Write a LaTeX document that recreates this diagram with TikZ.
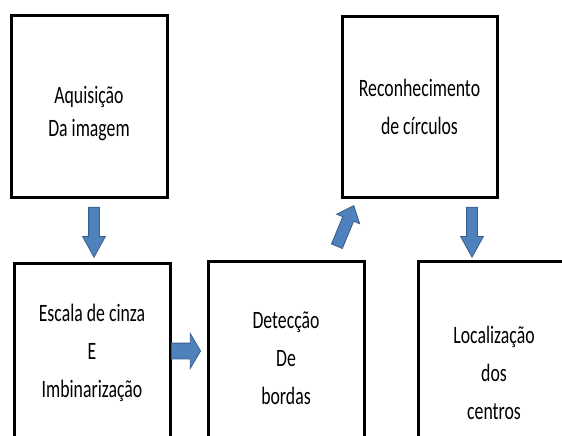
\documentclass[tikz,border=0pt]{standalone}
\usepackage{fontspec}
\newfontfamily\etapafont[FakeStretch=0.71]{Carlito}
\usepackage{tikz}
\usetikzlibrary{shapes.arrows}
\definecolor{setaazul}{RGB}{79,129,189}
\definecolor{setaborda}{RGB}{56,93,138}
\tikzset{
  etapa/.style={draw, line width=3pt, align=center, inner sep=0pt,
                font=\etapafont\fontsize{25}{38}\selectfont},
  seta/.style={shape=single arrow, draw=setaborda, fill=setaazul,
               line width=0.8pt, inner sep=0pt, text depth=0pt, anchor=tip}
}

\begin{document}
\begin{tikzpicture}[x=1pt, y=-1pt]
  \useasboundingbox (0,0) rectangle (562,436);

  \node[etapa, minimum width=156pt, minimum height=181pt] (aquisicao) at (89,106.5) {\rule{0pt}{32pt}Aquisição\\[-5pt]Da imagem};
  \node[etapa, minimum width=156pt, minimum height=180pt] (cinza) at (92,353) {Escala de cinza\\E\\Imbinarização};
  \node[etapa, minimum width=156pt, minimum height=195pt] (bordas) at (286,358.5) {Detecção\\De\\bordas};
  \node[etapa, minimum width=155pt, minimum height=180pt] (circulos) at (419.5,107) {Reconhecimento\\de círculos};
  \node[etapa, minimum width=152pt, minimum height=223pt] (centros) at (494,372.5) {Localização\\dos\\centros};

  % setas de bloco
  \node[seta, rotate=-90, text height=10pt, minimum height=50pt, minimum width=22pt,
        single arrow head extend=6pt, single arrow tip angle=57.6] (s1) at (94,258) {};
  \node[seta, text height=15pt, minimum height=29pt, minimum width=34pt,
        single arrow head extend=9.5pt, single arrow tip angle=119] (s2) at (201,351) {};
  \node[seta, rotate=67.5, text height=11pt, minimum height=44pt, minimum width=24pt,
        single arrow head extend=6.5pt, single arrow tip angle=81] (s3) at (354,205) {};
  \node[seta, rotate=-90, text height=10pt, minimum height=50pt, minimum width=22pt,
        single arrow head extend=6pt, single arrow tip angle=57.6] (s4) at (472,258) {};
\end{tikzpicture}
\end{document}
